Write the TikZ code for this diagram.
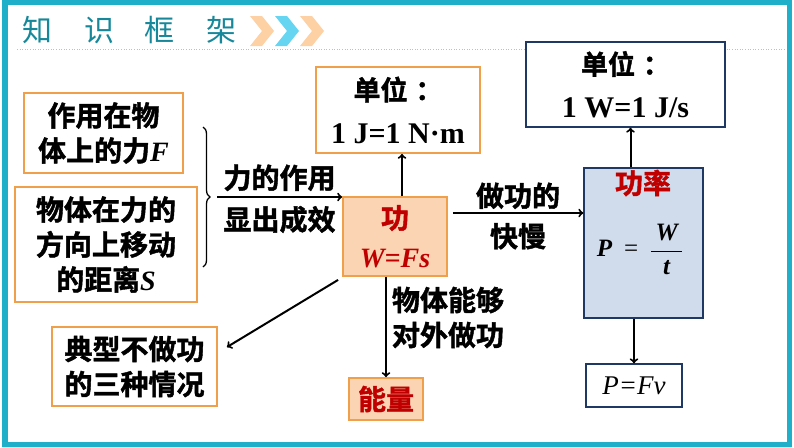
\documentclass[tikz,border=0pt]{standalone}
\usepackage{fontspec}
\setmainfont{Liberation Serif}
\newfontfamily\cjk{Noto Sans CJK SC}[BoldFont={Noto Sans CJK SC Bold}, BoldFeatures={FakeBold=1.5}]
\usetikzlibrary{arrows,calc,decorations.pathreplacing}

\definecolor{frameTeal}{HTML}{1FAFC8}
\definecolor{titleTeal}{HTML}{17889A}
\definecolor{boxOrange}{HTML}{F0A04B}
\definecolor{peachFill}{HTML}{FBD4B4}
\definecolor{redText}{HTML}{C00000}
\definecolor{navy}{HTML}{203864}
\definecolor{blueFill}{HTML}{D0DCEB}
\definecolor{chevOrange}{HTML}{FDD1A3}
\definecolor{chevBlue}{HTML}{66D5F2}

\newcommand\unitline[1]{{\rmfamily\fontsize{30}{43}\selectfont #1}}

\begin{document}
\begin{tikzpicture}[>=to, line width=2pt, x=1pt, y=-1pt]
    \tikzstyle{box}=[draw=boxOrange, line width=1.8pt, fill=white, inner sep=0pt, align=center, font=\fontsize{28}{35}\selectfont\cjk\bfseries]
    \tikzstyle{core}=[box, fill=peachFill, text=redText, font=\fontsize{28}{39}\selectfont\cjk\bfseries]
    \tikzstyle{bluebox}=[box, draw=navy, line width=1.5pt]
    \tikzstyle{unitbox}=[box, font=\fontsize{27}{43}\selectfont\cjk\bfseries]
    \tikzstyle{lbl}=[inner sep=0pt, align=center, font=\fontsize{28}{35}\selectfont\cjk\bfseries]

    \useasboundingbox (0,0) rectangle (794,447);
    \draw[frameTeal, line width=5.5pt] (5,2.5) rectangle (789.5,444.5);

    % title bar
    \node[inner sep=0pt, text=titleTeal, font=\fontsize{30}{30}\selectfont\cjk] (title) at (129.5,30) {知\hspace{32pt}识\hspace{30pt}框\hspace{32pt}架};
    \foreach \x/\c in {250/chevOrange, 275/chevBlue, 300/chevOrange}
        \fill[\c] (\x,16) -- (\x+12,16) -- (\x+24,31) -- (\x+12,46) -- (\x,46) -- (\x+12,31) -- cycle;
    \draw[gray!50, dotted, line width=0.6pt] (17,49) -- (786,49);

    % left side
    \node[box, minimum width=159pt, minimum height=80pt] (force) at (103.5,133) {作用在物\\体上的力{\rmfamily\itshape F}};
    \node[box, minimum width=182pt, minimum height=115pt] (dist) at (106,244.5) {物体在力的\\方向上移动\\的距离{\rmfamily\itshape S}};
    \draw[decorate, decoration={brace, amplitude=7pt}, line width=1.3pt] (203,127) -- (203,267);
    \coordinate (braceTip) at (217,197);

    % work
    \node[core, minimum width=104pt, minimum height=79pt] (gong) at (395,236.5) {功\\{\rmfamily\itshape W=Fs}};
    \node[unitbox, minimum width=164pt, minimum height=86pt] (unitJ) at (398,110) {单位\hspace{8pt}：\\\unitline{1 J=1 N·m}};
    \node[core, minimum width=74pt, minimum height=42pt] (energy) at (386,399) {能量};
    \node[box, minimum width=165pt, minimum height=79pt] (typical) at (134.5,366.5) {典型不做功\\的三种情况};

    % power
    \node[bluebox, fill=blueFill, minimum width=119pt, minimum height=150pt] (gonglv) at (643.5,243) {};
    \node[lbl, text=redText] (gonglvName) at (643,183) {功率};
    \node[inner sep=0pt, font=\fontsize{25}{30}\selectfont\bfseries\itshape] (gonglvEq) at (640,249)
        {P\hspace{12pt}{\mdseries\upshape =}\hspace{12pt}$\displaystyle\frac{\mbox{\,W\,}}{\mbox{t}}$};
    \node[unitbox, draw=navy, line width=1.5pt, minimum width=199pt, minimum height=85pt] (unitW) at (625.5,84.5) {单位\hspace{8pt}：\\\unitline{1 W=1 J/s}};
    \node[bluebox, minimum width=96pt, minimum height=43pt, font=\fontsize{27}{30}\selectfont\rmfamily\itshape] (pfv) at (634,385.5) {P=Fv};

    % connectors
    \draw[->] (braceTip) -- node[lbl, above=5pt] (effUp) {力的作用} node[lbl, below=8pt] (effDown) {显出成效} (braceTip -| gong.west);
    \draw[->] ([xshift=7pt]gong.north) -- ([xshift=7pt]gong.north |- unitJ.south);
    \draw[->] (energy.north |- gong.south) -- (energy.north);
    \node[lbl, anchor=west, align=left] (energyLbl) at (391,317.5) {物体能够\\对外做功};
    \draw[->] ($(gong.south west)+(-4,3)$) -- ($(typical.north east)+(9,21)$);
    \coordinate (rateArr) at (gong.east |- 0,213);
    \draw[->] ([xshift=5pt]rateArr) -- node[lbl, above=3pt] (rateUp) {做功的} node[lbl, below=9pt] (rateDown) {快慢} (rateArr -| gonglv.west);
    \draw[->] ([xshift=-13pt]gonglv.north) -- ([xshift=-13pt]gonglv.north |- unitW.south);
    \draw[->] (pfv.north |- gonglv.south) -- (pfv.north);
\end{tikzpicture}
\end{document}
